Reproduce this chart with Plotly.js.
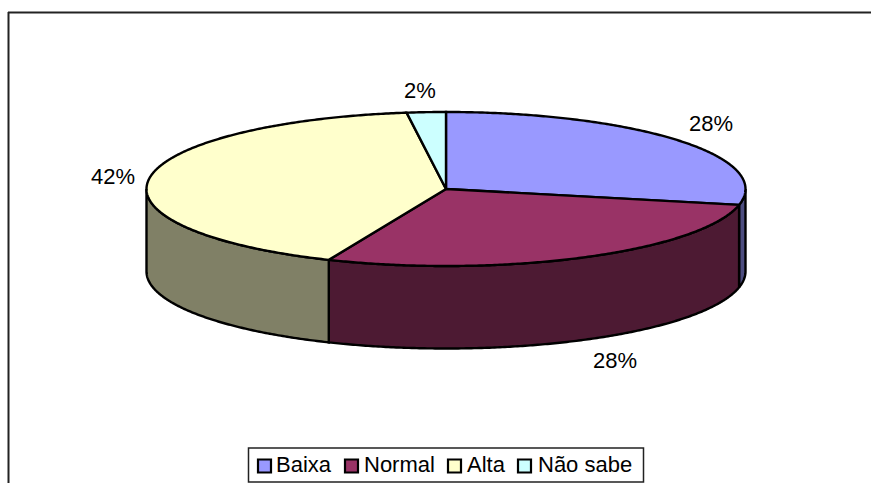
<!DOCTYPE html>
<html><head><meta charset="utf-8">
<script src="https://cdn.plot.ly/plotly-3.0.1.min.js"></script>
<style>html,body{margin:0;padding:0;background:#fff;overflow:hidden}</style></head>
<body><div id="chart" style="width:871px;height:483px"></div>
<script>
const categories = ['Baixa','Normal','Alta','Não sabe'];
const shareValues = [28.3,28.1,41.5,2.1];
const pctLabels = ['28%','28%','42%','2%'];
const topColors = ['#9999FF','#993366','#FFFFCC','#CCFFFF'];
const sideColors = ['#4D4D80','#4D1A33','#808066','#668080'];
const labelX = [711,615,113,420];
const labelY = [125,362,178,92];
const legendSwatchX = [264.5,351.5,454.5,524.5];
const legendTextX = [276,364,467,538];

const cx=446, cy=189, rx=299.5, ry=77, depth=82.5;
const FONT='"Liberation Sans", Arial, sans-serif', FS=22;
const pt=(a,dy=0)=>[cx+rx*Math.sin(a*Math.PI/180), cy-ry*Math.cos(a*Math.PI/180)+dy];
function arc(a0,a1,dy=0){const n=Math.max(2,Math.ceil(Math.abs(a1-a0)*2));const o=[];for(let i=0;i<=n;i++)o.push(pt(a0+(a1-a0)*i/n,dy));return o;}
const edges=[0];shareValues.forEach(v=>edges.push(edges[edges.length-1]+v*3.6));
const traces=[];
function poly(pts,fill,name){traces.push({type:'scatter',mode:'lines',x:pts.map(p=>p[0]),y:pts.map(p=>p[1]),fill:'toself',fillcolor:fill,line:{color:'#000',width:2.4,simplify:false},hoverinfo:'skip',showlegend:false,name});}
shareValues.forEach((v,i)=>{
  const a=Math.max(edges[i],90),b=Math.min(edges[i+1],270);
  if(b<=a)return;
  const top=arc(a,b),bot=arc(b,a,depth);
  poly([...top,...bot,top[0]],sideColors[i],categories[i]+' wall');
});
shareValues.forEach((v,i)=>{
  const p=arc(edges[i],edges[i+1]);
  poly([[cx,cy],...p,[cx,cy]],topColors[i],categories[i]);
});
traces.push({type:'scatter',mode:'text',x:labelX,y:labelY,text:pctLabels,textposition:'middle center',textfont:{family:FONT,size:FS,color:'#000'},hoverinfo:'skip',showlegend:false});
traces.push({type:'scatter',mode:'markers',x:legendSwatchX,y:categories.map(()=>466),marker:{symbol:'square',size:13,color:topColors,line:{color:'#000',width:2.2}},hoverinfo:'skip',showlegend:false});
traces.push({type:'scatter',mode:'text',x:legendTextX,y:categories.map(()=>466.5),text:categories,textposition:'middle right',textfont:{family:FONT,size:FS,color:'#000'},hoverinfo:'skip',showlegend:false});
const hidden={visible:false,fixedrange:true};
const layout={width:871,height:483,margin:{l:0,r:0,t:0,b:0},paper_bgcolor:'#fff',plot_bgcolor:'#fff',showlegend:false,
 xaxis:{...hidden,range:[0,871],domain:[0,1]},yaxis:{...hidden,range:[483,0],domain:[0,1]},
 shapes:[
  {type:'line',xref:'x',yref:'y',x0:8,y0:12.5,x1:871,y1:12.5,line:{color:'#222',width:2},layer:'below'},
  {type:'line',xref:'x',yref:'y',x0:8.5,y0:12,x1:8.5,y1:483,line:{color:'#222',width:2},layer:'below'},
  {type:'rect',xref:'x',yref:'y',x0:248.5,y0:448,x1:643.5,y1:482,line:{color:'#222',width:1.5},fillcolor:'#fff',layer:'below'}
 ]};
Plotly.newPlot('chart',traces,layout,{displayModeBar:false,staticPlot:true});
</script></body></html>
